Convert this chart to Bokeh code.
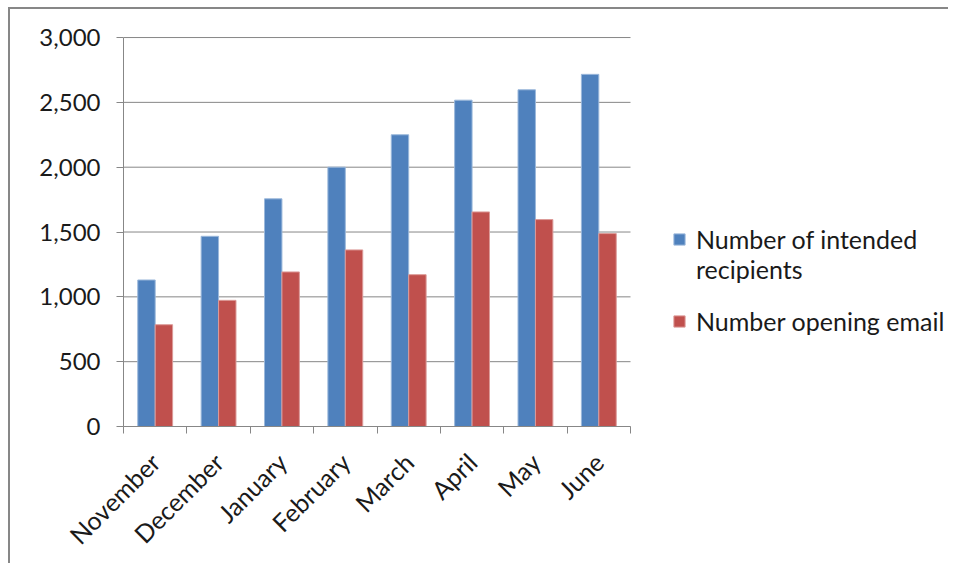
import numpy as np
from bokeh.plotting import figure
from bokeh.models import (FixedTicker, NumeralTickFormatter, Legend, LegendItem,
                          Range1d, ColumnDataSource)
from bokeh.embed import file_html
from bokeh.resources import INLINE

months = ["November", "December", "January", "February", "March", "April", "May", "June"]
intended = [1130, 1467, 1756, 2000, 2250, 2517, 2597, 2716]
opening = [785, 973, 1192, 1362, 1171, 1655, 1596, 1488]
y_ticks = [0, 500, 1000, 1500, 2000, 2500, 3000]

FONT = "Lato"
GRAY = "#878787"
BLUE = "#4F81BD"
RED = "#C0504D"

n = len(months)
centers = np.arange(n) + 0.5
bw = 0.275

# the frame also holds the legend area on the right; bars use the left 507px
BAR_PX = 507
FRAME_W = 825
FRAME_H = 390

src = ColumnDataSource(dict(
    xb=centers - bw / 2, xr=centers + bw / 2,
    intended=intended, opening=opening,
))

p = figure(width=950, height=573, frame_width=FRAME_W, frame_height=FRAME_H,
           output_backend="svg", toolbar_location=None,
           x_range=Range1d(0, n * FRAME_W / BAR_PX), y_range=Range1d(0, 3008),
           min_border_left=113, min_border_top=27, min_border_right=0,
           min_border_bottom=20)
p.margin = (7, 0, 0, 8)
p.styles = {"border-top": f"2px solid {GRAY}", "border-left": f"2px solid {GRAY}"}
p.outline_line_color = None
p.background_fill_color = "white"
p.border_fill_color = "white"

# horizontal gridlines spanning only the category area
p.segment(x0=[0] * len(y_ticks), x1=[n] * len(y_ticks), y0=y_ticks, y1=y_ticks,
          line_color=GRAY, line_width=1)

rb = p.vbar(x="xb", top="intended", width=bw, source=src, fill_color=BLUE,
            line_color="#9bb8db", line_width=1)
rr = p.vbar(x="xr", top="opening", width=bw, source=src, fill_color=RED,
            line_color="#dc9a98", line_width=1)
# invisible renderer used only for legend spacing rows
blank = p.vbar(x=[], top=[], width=bw, fill_alpha=0, line_alpha=0)

# y axis
p.yaxis.ticker = FixedTicker(ticks=y_ticks)
p.yaxis.formatter = NumeralTickFormatter(format="0,0")
p.yaxis.bounds = (0, 3000)
p.yaxis.major_tick_in = 0
p.yaxis.major_tick_out = 7
p.yaxis.minor_tick_line_color = None
p.yaxis.axis_line_color = GRAY
p.yaxis.major_tick_line_color = GRAY
p.yaxis.major_label_text_font = FONT
p.yaxis.major_label_text_font_size = "24px"
p.yaxis.major_label_text_color = "#1a1a1a"
p.yaxis.major_label_standoff = 16

# x axis: labels at centres, ticks at category boundaries
p.xaxis.ticker = FixedTicker(ticks=list(centers), minor_ticks=list(range(n + 1)))
p.xaxis.major_label_overrides = {float(c): m for c, m in zip(centers, months)}
p.xaxis.bounds = (0, n)
p.xaxis.major_tick_line_color = None
p.xaxis.minor_tick_in = 0
p.xaxis.minor_tick_out = 7
p.xaxis.minor_tick_line_color = GRAY
p.xaxis.axis_line_color = GRAY
p.xaxis.major_label_orientation = np.pi / 4
p.xaxis.major_label_text_font = FONT
p.xaxis.major_label_text_font_size = "25px"
p.xaxis.major_label_text_color = "#1a1a1a"
p.xaxis.major_label_standoff = 24

p.xgrid.grid_line_color = None
p.ygrid.grid_line_color = None

legend = Legend(items=[
    LegendItem(label="Number of intended", renderers=[rb]),
    LegendItem(label="recipients", renderers=[blank]),
    LegendItem(label=" ", renderers=[blank]),
    LegendItem(label="Number opening email", renderers=[rr]),
], location=(549, 90), orientation="vertical")
legend.label_text_font = FONT
legend.label_text_font_size = "25px"
legend.label_text_color = "#1a1a1a"
legend.label_height = 22
legend.glyph_width = 14
legend.glyph_height = 14
legend.label_standoff = 10
legend.spacing = 0
legend.padding = 0
legend.margin = 0
legend.border_line_color = None
legend.background_fill_alpha = 0
p.add_layout(legend, "center")

open("out.html", "w").write(file_html(p, INLINE))
